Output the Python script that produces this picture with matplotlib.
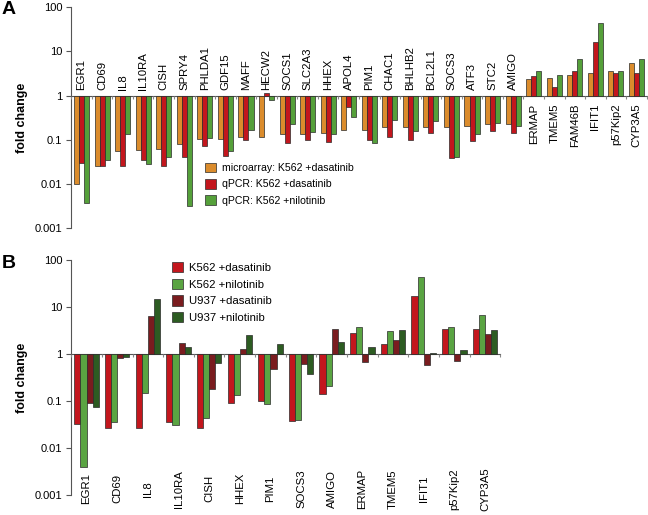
import matplotlib
matplotlib.use("Agg")
import matplotlib.pyplot as plt
import numpy as np
from matplotlib.patches import Patch
from matplotlib.ticker import FixedLocator, NullLocator

plt.rcParams['font.family'] = ['Liberation Sans', 'DejaVu Sans']

# ---------------- Panel A data ----------------
genes_a = ["EGR1", "CD69", "IL8", "IL10RA", "CISH", "SPRY4", "PHLDA1", "GDF15", "MAFF",
           "HECW2", "SOCS1", "SLC2A3", "HHEX", "APOL4", "PIM1", "CHAC1", "BHLHB2", "BCL2L1",
           "SOCS3", "ATF3", "STC2", "AMIGO", "ERMAP", "TMEM5", "FAM46B", "IFIT1", "p57Kip2", "CYP3A5"]
micro_k562_dasa = [0.0102, 0.026, 0.056, 0.058, 0.062, 0.081, 0.102, 0.106, 0.115,
                   0.117, 0.132, 0.136, 0.144, 0.165, 0.165, 0.19, 0.19, 0.19,
                   0.19, 0.20, 0.23, 0.23, 2.33, 2.46, 2.93, 3.2, 3.6, 5.35]
qpcr_k562_dasa = [0.030, 0.026, 0.025, 0.034, 0.026, 0.041, 0.073, 0.044, 0.100,
                  1.15, 0.084, 0.097, 0.089, 0.55, 0.100, 0.113, 0.100, 0.146,
                  0.038, 0.092, 0.16, 0.139, 2.73, 1.57, 3.6, 16.1, 3.25, 3.25]
qpcr_k562_nilo = [0.0037, 0.034, 0.136, 0.029, 0.041, 0.0032, 0.109, 0.057, 0.168,
                  0.80, 0.23, 0.15, 0.132, 0.32, 0.083, 0.28, 0.157, 0.26,
                  0.040, 0.132, 0.245, 0.21, 3.66, 2.97, 6.8, 43.0, 3.66, 6.6]
labels_a = ["microarray: K562 +dasatinib", "qPCR: K562 +dasatinib", "qPCR: K562 +nilotinib"]

# ---------------- Panel B data ----------------
genes_b = ["EGR1", "CD69", "IL8", "IL10RA", "CISH", "HHEX", "PIM1", "SOCS3", "AMIGO",
           "ERMAP", "TMEM5", "IFIT1", "p57Kip2", "CYP3A5"]
k562_dasa = [0.032, 0.026, 0.026, 0.036, 0.027, 0.091, 0.100, 0.038, 0.141,
             2.8, 1.6, 16.9, 3.35, 3.35]
k562_nilo = [0.0039, 0.035, 0.146, 0.031, 0.044, 0.136, 0.086, 0.039, 0.21,
             3.8, 3.1, 44.0, 3.8, 6.75]
u937_dasa = [0.089, 0.81, 6.4, 1.7, 0.177, 1.28, 0.48, 0.61, 3.35,
             0.69, 1.98, 0.58, 0.71, 2.66]
u937_nilo = [0.074, 0.88, 14.8, 1.41, 0.63, 2.54, 1.63, 0.37, 1.83,
             1.39, 3.2, 1.03, 1.24, 3.24]
labels_b = ["K562 +dasatinib", "K562 +nilotinib", "U937 +dasatinib", "U937 +nilotinib"]

yticks = [0.001, 0.01, 0.1, 1, 10, 100]
yticklabels = ["0.001", "0.01", "0.1", "1", "10", "100"]

ORANGE = "#DB8C2C"
RED = "#C3161D"
GREEN = "#55A03A"
GREEN_B = "#5AA442"
DRED = "#7A1C1F"
DGREEN = "#2D5C22"
EDGE = "#2a2a2a"

fig = plt.figure(figsize=(6.48, 5.15), dpi=100)


def style_axis(ax, n):
    ax.set_yscale('log')
    ax.set_ylim(0.001, 100)
    ax.yaxis.set_major_locator(FixedLocator(yticks))
    ax.yaxis.set_minor_locator(NullLocator())
    ax.set_yticklabels(yticklabels, fontsize=8)
    ax.set_xlim(0, n)
    ax.spines['top'].set_visible(False)
    ax.spines['right'].set_visible(False)
    ax.spines['bottom'].set_position(('data', 1))
    ax.spines['bottom'].set_color('#555555')
    ax.spines['bottom'].set_linewidth(0.8)
    ax.spines['left'].set_color('#555555')
    ax.spines['left'].set_linewidth(0.8)
    ax.set_xticks(np.arange(0, n + 1))
    ax.set_xticklabels([])
    ax.tick_params(axis='x', direction='out', length=2.5, width=0.8, color='#888888')
    ax.tick_params(axis='y', direction='out', length=3.5, width=0.8, color='#555555', pad=3)
    ax.set_ylabel("fold change", fontsize=9, fontweight='bold', labelpad=5)
    ax.set_axisbelow(False)


# ---------------- Panel A ----------------
axA = fig.add_axes([0.110, 0.557, 0.888, 0.429])
nA = len(genes_a)
xA = np.arange(nA) + 0.5
wA = 0.245
for i, (vals, col) in enumerate(zip([micro_k562_dasa, qpcr_k562_dasa, qpcr_k562_nilo],
                                     [ORANGE, RED, GREEN])):
    v = np.array(vals)
    axA.bar(xA + (i - 1) * wA, v - 1, bottom=1, width=wA, color=col,
            edgecolor=EDGE, linewidth=0.5, label=labels_a[i], zorder=3)
style_axis(axA, nA)
for x, g, a, b, c in zip(xA, genes_a, micro_k562_dasa, qpcr_k562_dasa, qpcr_k562_nilo):
    if max(a, c) < 1:
        axA.text(x, 1.32, g, rotation=90, ha='center', va='bottom', fontsize=8.2)
    else:
        axA.text(x, 0.66, g, rotation=90, ha='center', va='top', fontsize=8.2)

hA = [Patch(facecolor=c, edgecolor=EDGE, linewidth=0.5) for c in [ORANGE, RED, GREEN]]
fig.legend(hA, labels_a, loc='upper left', bbox_to_anchor=(205 / 648, 1 - 163 / 515),
           frameon=False, fontsize=7.6, handlelength=1.0, handleheight=1.0,
           handletextpad=0.6, labelspacing=0.55, borderpad=0, borderaxespad=0)
fig.text(2 / 648, 1 - 10 / 515, "A", fontsize=14, fontweight='bold', va='center', ha='left')

# ---------------- Panel B ----------------
axB = fig.add_axes([0.110, 0.039, 0.662, 0.456])
nB = len(genes_b)
xB = np.arange(nB) + 0.5
wB = 0.2
for i, (vals, col) in enumerate(zip([k562_dasa, k562_nilo, u937_dasa, u937_nilo],
                                     [RED, GREEN_B, DRED, DGREEN])):
    v = np.array(vals)
    axB.bar(xB + (i - 1.5) * wB, v - 1, bottom=1, width=wB, color=col,
            edgecolor=EDGE, linewidth=0.5, label=labels_b[i], zorder=3)
style_axis(axB, nB)
for x, g in zip(xB, genes_b):
    axB.text(x, 0.00135, g, rotation=90, ha='center', va='center', fontsize=8.2, clip_on=False)

hB = [Patch(facecolor=c, edgecolor=EDGE, linewidth=0.5) for c in [RED, GREEN_B, DRED, DGREEN]]
fig.legend(hB, labels_b, loc='upper left', bbox_to_anchor=(172 / 648, 1 - 262 / 515),
           frameon=False, fontsize=8.2, handlelength=1.0, handleheight=1.0,
           handletextpad=0.5, labelspacing=0.5, borderpad=0, borderaxespad=0)
fig.text(2 / 648, 1 - 264 / 515, "B", fontsize=14, fontweight='bold', va='center', ha='left')

fig.savefig("out.png", dpi=100)
